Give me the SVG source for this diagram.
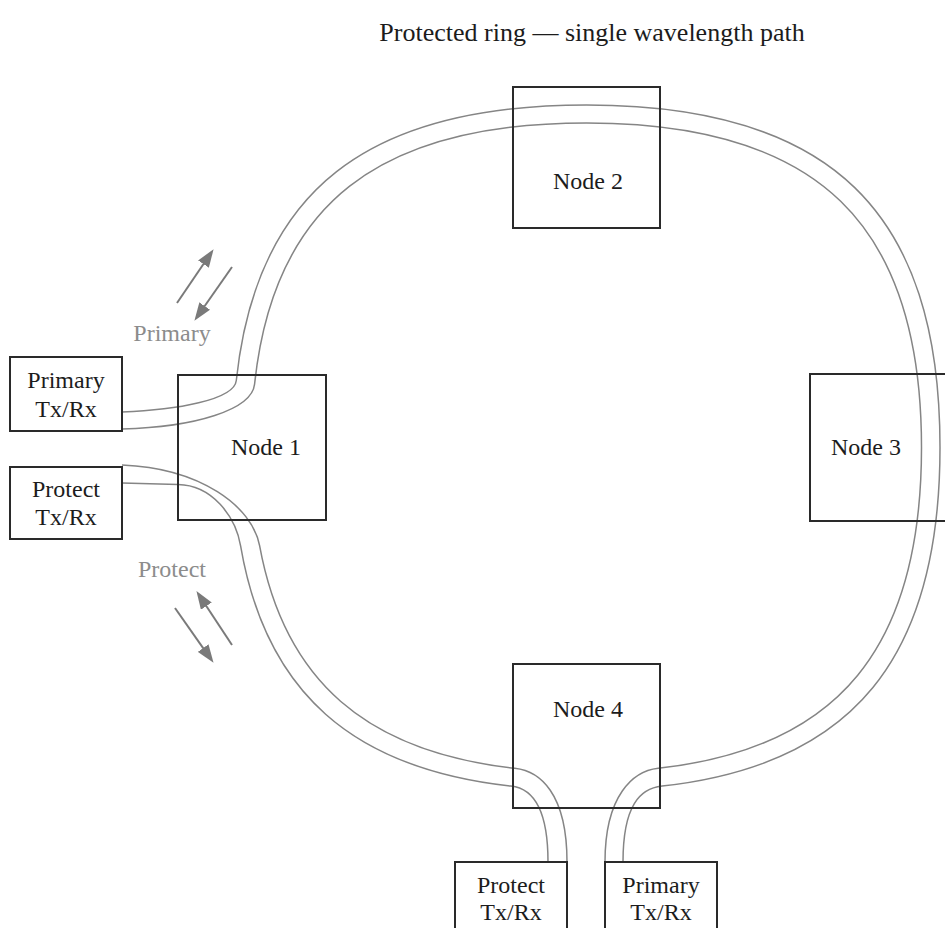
<svg xmlns="http://www.w3.org/2000/svg" width="945" height="928" viewBox="0 0 945 928">
  <style>
    .box { fill: none; stroke: #2a2a2a; stroke-width: 2; }
    .lbl { font-family: "Liberation Serif", "DejaVu Serif", serif; font-size: 24px; fill: #1c1c1c; text-anchor: middle; }
    .title { font-family: "Liberation Serif", "DejaVu Serif", serif; font-size: 26px; fill: #1c1c1c; text-anchor: middle; }
    .side { font-family: "Liberation Serif", "DejaVu Serif", serif; font-size: 24px; fill: #8c8c8c; text-anchor: middle; }
    .fiber { fill: none; stroke: #858585; stroke-width: 1.5; }
    .dir { fill: none; stroke: #7a7a7a; stroke-width: 2; marker-end: url(#head); }
  </style>
  <defs>
    <marker id="head" markerUnits="userSpaceOnUse" markerWidth="18" markerHeight="13" refX="7" refY="6.5" orient="auto">
      <path d="M0,0 L18,6.5 L0,13 Z" fill="#7a7a7a"/>
    </marker>
  </defs>

  <rect width="945" height="928" fill="#ffffff"/>

  <text class="title" x="592" y="41">Protected ring — single wavelength path</text>

  <!-- fibre pairs of the ring -->
  <g id="connectors">
    <!-- outer fibre, upper run: left Primary Tx/Rx over the top and round to the lower Primary Tx/Rx -->
    <path class="fiber" d="M122,412 C176,410 234.3,400 236.3,380.5 C256.3,191 367,105 586.5,105 C830.4,105 940,211.2 940,447.5 C940,657.8 853.2,765.1 662.1,786.1 C640.2,788.5 623,805 623,862"/>
    <!-- inner fibre, upper run -->
    <path class="fiber" d="M122,429 C195,427 252,410 254.6,384 C273.5,204.5 378.5,123 586.5,123 C817.65,123 921.5,223.6 921.5,447.5 C921.5,646.8 839.2,748.4 658.2,768.3 C633.4,771 605,795 605,862"/>
    <!-- outer fibre, lower-left run: left Protect Tx/Rx to lower Protect Tx/Rx -->
    <path class="fiber" d="M122,483 L178,484.5 C212,485 235.6,516.3 240.6,545.9 C265.5,691.8 352.3,768.7 510.9,786.1 C530.3,788.2 548,805 548,862"/>
    <!-- inner fibre, lower-left run -->
    <path class="fiber" d="M122,465 C200,468 252.4,506.3 259.6,545.7 C284.3,680.7 366.4,752 514.8,768.3 C539.7,771 567,793 567,862"/>

    <!-- direction arrows -->
    <line class="dir" x1="177" y1="303" x2="207.4" y2="258.3"/>
    <line class="dir" x1="232" y1="267" x2="200.7" y2="311.8"/>
    <line class="dir" x1="232" y1="645" x2="202.5" y2="600.3"/>
    <line class="dir" x1="175" y1="608" x2="207.2" y2="653.8"/>
  </g>

  <text class="side" x="172" y="341">Primary</text>
  <text class="side" x="172" y="577">Protect</text>

  <g id="node1">
    <rect class="box" x="178" y="375" width="148" height="145"/>
    <text class="lbl" x="266" y="455">Node 1</text>
  </g>
  <g id="node2">
    <rect class="box" x="513" y="87" width="147" height="141"/>
    <text class="lbl" x="588" y="189">Node 2</text>
  </g>
  <g id="node3">
    <rect class="box" x="810" y="374" width="150" height="147"/>
    <text class="lbl" x="866" y="455">Node 3</text>
  </g>
  <g id="node4">
    <rect class="box" x="513" y="664" width="147" height="144"/>
    <text class="lbl" x="588" y="717">Node 4</text>
  </g>

  <g id="primary-txrx-left">
    <rect class="box" x="10" y="357" width="112" height="74"/>
    <text class="lbl" x="66" y="388">Primary</text>
    <text class="lbl" x="66" y="417">Tx/Rx</text>
  </g>
  <g id="protect-txrx-left">
    <rect class="box" x="10" y="467" width="112" height="72"/>
    <text class="lbl" x="66" y="497">Protect</text>
    <text class="lbl" x="66" y="525">Tx/Rx</text>
  </g>
  <g id="protect-txrx-bottom">
    <rect class="box" x="455" y="862" width="112" height="80"/>
    <text class="lbl" x="511" y="893">Protect</text>
    <text class="lbl" x="511" y="920">Tx/Rx</text>
  </g>
  <g id="primary-txrx-bottom">
    <rect class="box" x="605" y="862" width="112" height="80"/>
    <text class="lbl" x="661" y="893">Primary</text>
    <text class="lbl" x="661" y="920">Tx/Rx</text>
  </g>
</svg>
